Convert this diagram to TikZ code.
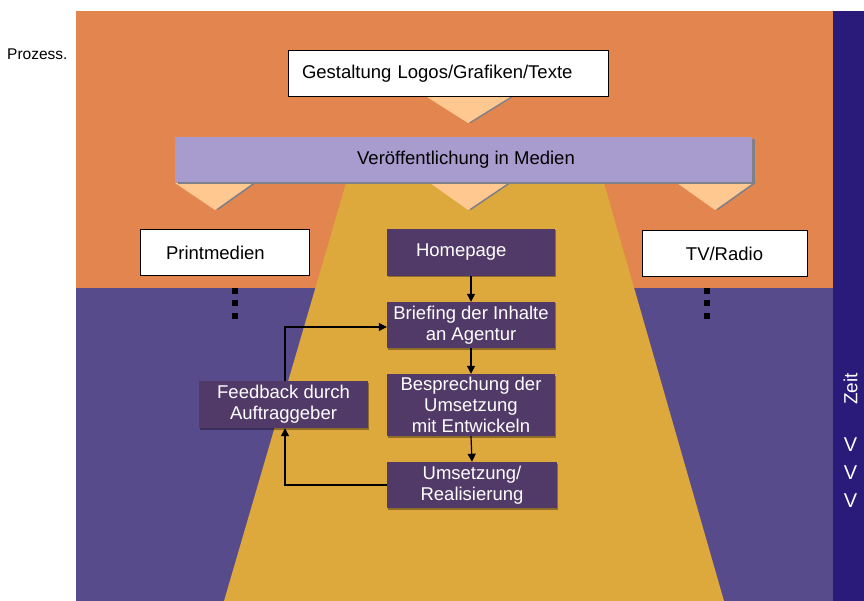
\documentclass[tikz,border=0pt]{standalone}
\usepackage{fontspec}
\setmainfont{Liberation Sans}
\usetikzlibrary{arrows.meta,shadows}
\definecolor{orangebg}{HTML}{E3854F}
\definecolor{purplebg}{HTML}{584B8C}
\definecolor{yellowbg}{HTML}{DDA83C}
\definecolor{darkbar}{HTML}{2A1A7A}
\definecolor{lavbar}{HTML}{A89CCE}
\definecolor{peach}{HTML}{FFC891}
\definecolor{shadegray}{HTML}{80808A}
\definecolor{boxpurple}{HTML}{523A68}
\newcommand{\boxfont}{\fontsize{18.5}{21}\selectfont}
\begin{document}
\begin{tikzpicture}[x=1pt,y=-1pt,
  whitebox/.style={draw=black, line width=1pt, fill=white, minimum height=46pt, font=\boxfont, inner sep=0pt},
  darkbox/.style={fill=boxpurple, text=white, font=\boxfont, align=center, inner sep=0pt,
    drop shadow={shadow xshift=1pt, shadow yshift=-1.5pt, fill=black, opacity=0.35}},
  chev/.style={fill=peach},
  chevshade/.style={fill=shadegray},
  arr/.style={-{Triangle[length=8pt,width=8pt]}, line width=1.2pt, black},
  dots/.style={line width=6.5pt, dash pattern=on 6pt off 6.5pt, black},
  zeitfont/.style={text=white, font=\fontsize{19}{21}\selectfont, inner sep=0pt}
]
\useasboundingbox (0,0) rectangle (864,601);
% backgrounds
\fill[orangebg] (76,11) rectangle (833,288);
\fill[purplebg] (76,288) rectangle (833,601);
\fill[yellowbg] (346,183) -- (604,183) -- (724,601) -- (224,601) -- cycle;
\fill[darkbar] (833,11) rectangle (864,601);
% chevrons
\fill[chevshade] (430,97) -- (513,97) -- (471,123) -- cycle;
\fill[chev] (427,97) -- (510,97) -- (468,123) -- cycle;
\fill[chevshade] (178,183) -- (256,183) -- (218,210) -- cycle;
\fill[chev] (175,183) -- (253,183) -- (215,210) -- cycle;
\fill[chevshade] (433,183) -- (511,183) -- (471,210) -- cycle;
\fill[chev] (430,183) -- (508,183) -- (468,210) -- cycle;
\fill[chevshade] (680,183) -- (756,183) -- (718,210) -- cycle;
\fill[chev] (677,183) -- (753,183) -- (715,210) -- cycle;
% text left
\node[anchor=base west, font=\fontsize{15.5}{18}\selectfont, inner sep=0pt] (proz) at (7,60) {Prozess.};
% top box
\node[whitebox, minimum width=320pt, text width=292pt, align=left, inner xsep=14pt] (gest) at (448,73.5) {Gestaltung Logos/Grafiken/Texte};
% lavender bar
\node[fill=lavbar, minimum width=577pt, minimum height=45pt, font=\boxfont, inner sep=0pt,
  drop shadow={shadow xshift=3pt, shadow yshift=-2.5pt, fill=shadegray, opacity=1}] (medien) at (463.5,159.5) {\hspace*{5pt}Veröffentlichung in Medien};
% media boxes
\node[whitebox, minimum width=169pt, text width=117pt, align=left, inner xsep=26pt] (print) at (224.5,253) {Printmedien};
\node[whitebox, minimum width=165pt] (tv) at (724.5,253.5) {TV/Radio};
% process boxes
\node[darkbox, minimum width=168pt, minimum height=47pt, text width=110pt, inner xsep=29pt, align=left] (home) at (471,252.5) {\raisebox{4pt}{Homepage}};
\node[darkbox, minimum width=168pt, minimum height=46pt] (brief) at (471,325) {Briefing der Inhalte\\an Agentur};
\node[darkbox, minimum width=168pt, minimum height=62pt] (besp) at (471,405) {Besprechung der\\Umsetzung\\mit Entwickeln};
\node[darkbox, minimum width=170pt, minimum height=46pt] (ums) at (472,485) {Umsetzung/\\Realisierung};
\node[darkbox, minimum width=169pt, minimum height=47pt] (fb) at (283.5,404.5) {Feedback durch\\Auftraggeber};
% arrows
\draw[arr] (home.south) -- (brief.north);
\draw[arr] (brief.south) -- (besp.north);
\draw[arr] (besp.south) -- (ums.north);
\coordinate (loopx) at (285,0);
\draw[arr] (ums.west) -| (fb.south -| loopx);
\draw[arr] (fb.north -| loopx) |- ([yshift=-2pt]brief.west);
% dotted lines
\coordinate (pdot) at (235,288);
\coordinate (tdot) at (707,288);
\draw[dots] (pdot) -- ++(0,31);
\draw[dots] (tdot) -- ++(0,31);
% time axis
\node[zeitfont, rotate=90] (zeit) at (850.5,389) {Zeit};
\node[zeitfont, font=\fontsize{20}{22}\selectfont] (v1) at (850.5,445) {V};
\node[zeitfont, font=\fontsize{20}{22}\selectfont] (v2) at (850.5,473) {V};
\node[zeitfont, font=\fontsize{20}{22}\selectfont] (v3) at (850.5,500.5) {V};
\end{tikzpicture}
\end{document}
